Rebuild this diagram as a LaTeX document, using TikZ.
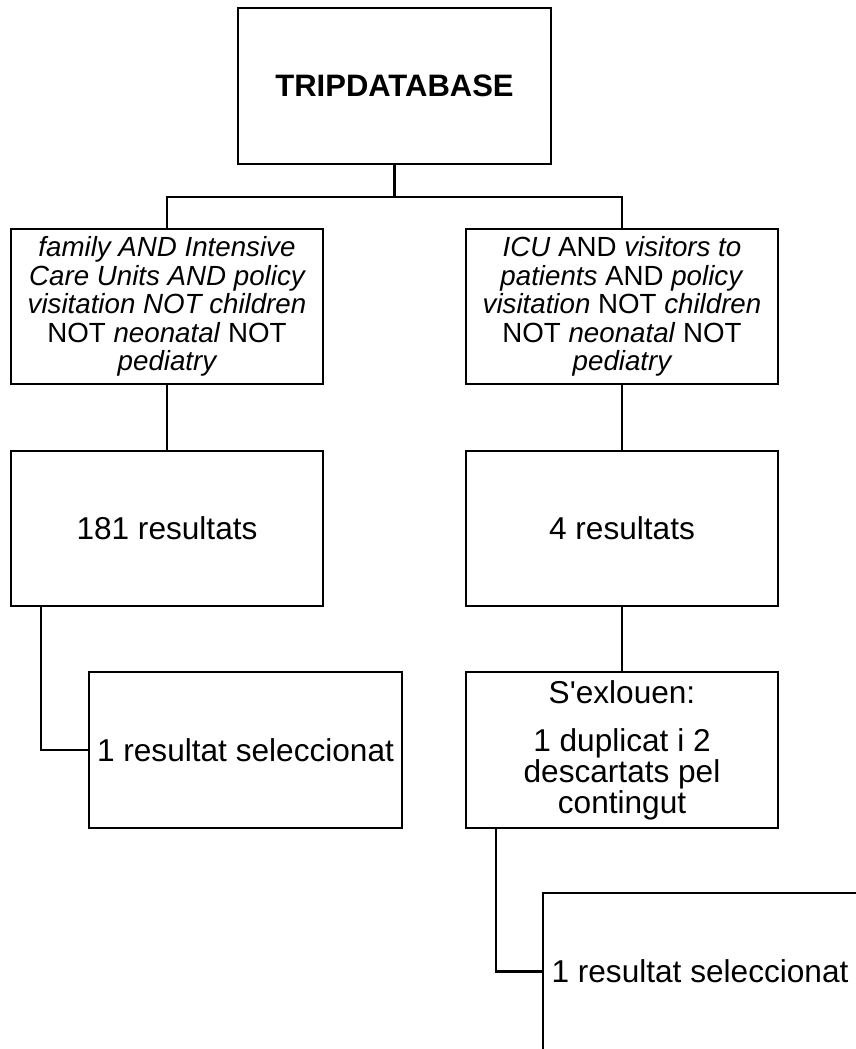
\documentclass[tikz,border=0pt]{standalone}
\usepackage{fontspec}
\setmainfont{Liberation Sans}
\font\aposfont="Liberation Sans" at 31.6pt
\usetikzlibrary{calc}
\begin{document}
\begin{tikzpicture}[x=1pt,y=-1pt,
  box/.style={draw=black,line width=2.2pt,rectangle,inner sep=0pt,align=center,
    font=\fontsize{31.6}{31}\selectfont},
  qbox/.style={box,font=\fontsize{27.7}{28.5}\selectfont},
  link/.style={draw=black,line width=2.2pt}]
\useasboundingbox (0,0) rectangle (855,1049);
\node[box,minimum width=313pt,minimum height=156pt,font=\fontsize{31}{31}\selectfont\bfseries] (trip) at (394.5,86) {TRIPDATABASE};
\node[qbox,minimum width=312pt,minimum height=155pt] (q1) at (167,306.5)
  {\itshape family AND Intensive\\ \itshape Care Units AND policy\\ \itshape visitation NOT children\\ NOT \textit{neonatal} NOT\\ \itshape pediatry};
\node[qbox,minimum width=312pt,minimum height=155pt] (q2) at (622,306.5)
  {\textit{ICU} AND \textit{visitors to}\\ \textit{patients} AND \textit{policy}\\ \textit{visitation} NOT \textit{children}\\ NOT \textit{neonatal} NOT\\ \itshape pediatry};
\node[box,minimum width=312pt,minimum height=155pt] (r1) at (167,528.5) {181 resultats};
\node[box,minimum width=312pt,minimum height=155pt] (r2) at (622,528.5) {4 resultats};
\node[box,minimum width=313pt,minimum height=156pt] (s1) at (245.5,750) {1 resultat seleccionat};
\node[box,minimum width=312pt,minimum height=156pt] (ex) at (622,750)
  {{\aposfont S'exlouen:}\\[17pt] 1 duplicat i 2\\ descartats pel\\ contingut};
\node[box,minimum width=314pt,minimum height=157pt] (s2) at (700,971.5) {1 resultat seleccionat};
\coordinate (bus) at (394.5,197);
\draw[link] (trip.south) -- (bus);
\draw[link] (q1.north) |- (bus) -| (q2.north);
\draw[link] (q1.south) -- (r1.north);
\draw[link] (q2.south) -- (r2.north);
\draw[link] (r2.south) -- (ex.north);
\draw[link] ($(r1.south west)+(31,0)$) |- (s1.west);
\draw[link] ($(ex.south west)+(31,0)$) |- (s2.west);
\end{tikzpicture}
\end{document}
